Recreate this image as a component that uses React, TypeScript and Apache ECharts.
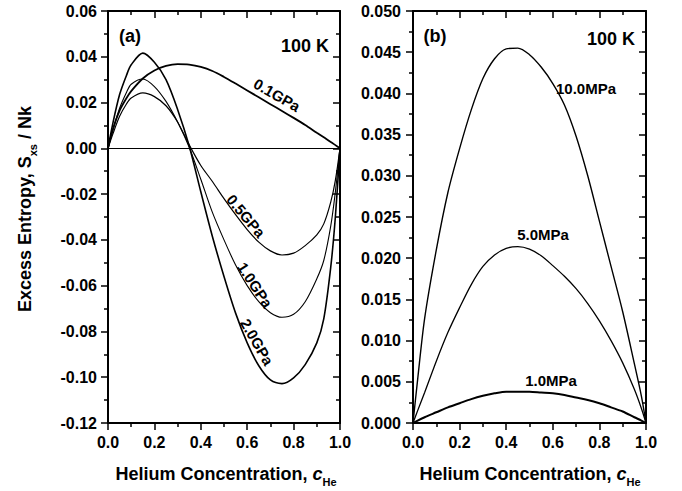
import React, { useEffect, useRef } from "react";
import * as echarts from "echarts";

// Panel (a): excess entropy vs helium concentration at 100 K, GPa pressures
const xA = [0, 0.02, 0.05, 0.08, 0.1, 0.15, 0.2, 0.25, 0.3, 0.35, 0.4, 0.45, 0.5, 0.55, 0.6, 0.65, 0.7, 0.75, 0.8, 0.85, 0.9, 0.93, 0.96, 0.98, 1.0];
const gpa01 = [0, 0.008, 0.0165, 0.022, 0.025, 0.0305, 0.034, 0.036, 0.0368, 0.0366, 0.0356, 0.0338, 0.0312, 0.0283, 0.0253, 0.0223, 0.0193, 0.0163, 0.0133, 0.0102, 0.0068, 0.0048, 0.0028, 0.0014, 0];
const gpa05 = [0, 0.006, 0.014, 0.0195, 0.022, 0.0242, 0.0226, 0.0186, 0.0115, 0.0015, -0.0075, -0.0145, -0.022, -0.029, -0.0355, -0.041, -0.0448, -0.0466, -0.0458, -0.0425, -0.0378, -0.033, -0.0235, -0.014, 0];
const gpa10 = [0, 0.0075, 0.0175, 0.0245, 0.028, 0.0303, 0.027, 0.0205, 0.0115, 0.0005, -0.0135, -0.028, -0.04, -0.051, -0.06, -0.067, -0.0718, -0.0738, -0.0725, -0.067, -0.057, -0.049, -0.034, -0.019, 0];
const gpa20 = [0, 0.0105, 0.0235, 0.032, 0.0365, 0.0416, 0.0376, 0.03, 0.017, 0.001, -0.019, -0.0385, -0.056, -0.072, -0.085, -0.095, -0.1012, -0.1028, -0.1003, -0.0945, -0.085, -0.0745, -0.052, -0.03, 0];

// Panel (b): MPa pressures
const xB = [0, 0.02, 0.05, 0.1, 0.15, 0.2, 0.25, 0.3, 0.35, 0.4, 0.45, 0.5, 0.55, 0.6, 0.65, 0.7, 0.75, 0.8, 0.85, 0.9, 0.95, 0.98, 1.0];
const mpa100 = [0, 0.0053, 0.0127, 0.021, 0.028, 0.0333, 0.038, 0.0418, 0.0442, 0.0454, 0.0455, 0.0447, 0.0432, 0.0412, 0.0386, 0.0348, 0.03, 0.0245, 0.019, 0.0135, 0.0072, 0.0033, 0];
const mpa50 = [0, 0.0015, 0.0037, 0.0075, 0.011, 0.014, 0.0168, 0.019, 0.0204, 0.0212, 0.0214, 0.0211, 0.0203, 0.0191, 0.0178, 0.0163, 0.0145, 0.0124, 0.01, 0.0073, 0.0041, 0.0018, 0];
const mpa10 = [0, 0.0003, 0.0007, 0.0013, 0.0019, 0.0024, 0.0029, 0.0033, 0.0036, 0.0038, 0.0038, 0.0038, 0.0037, 0.0036, 0.0034, 0.0031, 0.0028, 0.0024, 0.0019, 0.0014, 0.0007, 0.0003, 0];

const seriesA = [
  { name: "0.1GPa", values: gpa01, width: 1.8 },
  { name: "0.5GPa", values: gpa05, width: 1.2 },
  { name: "1.0GPa", values: gpa10, width: 1.1 },
  { name: "2.0GPa", values: gpa20, width: 1.6 },
];
const seriesB = [
  { name: "10.0MPa", values: mpa100, width: 1.4 },
  { name: "5.0MPa", values: mpa50, width: 1.3 },
  { name: "1.0MPa", values: mpa10, width: 2 },
];

const FONT = "'Liberation Sans', Arial, Helvetica, sans-serif";

export default function App() {
  const ref = useRef<HTMLDivElement>(null);
  useEffect(() => {
    if (!ref.current) return;
    const chart = echarts.init(ref.current, null, { renderer: "svg" });
    const black = "#000";
    const axisLine = { show: true, onZero: false, lineStyle: { color: black, width: 2 } };
    const labelStyle = { fontSize: 16, fontWeight: "bold", fontFamily: FONT, color: black };

    const mkX = (gridIndex: number, main: boolean) => ({
      type: "value",
      gridIndex,
      position: main ? "bottom" : "top",
      min: 0,
      max: 1,
      interval: 0.2,
      axisLine,
      axisTick: { show: true, inside: !main, length: 7, lineStyle: { color: black, width: 1.5 } },
      minorTick: { show: true, splitNumber: 2, length: 4, lineStyle: { color: black, width: 1.5 } },
      splitLine: { show: false },
      minorSplitLine: { show: false },
      axisLabel: {
        show: main,
        margin: 11,
        showMinLabel: true,
        showMaxLabel: true,
        ...labelStyle,
        formatter: (v: number) => v.toFixed(1),
      },
    });
    const mkY = (gridIndex: number, main: boolean, min: number, max: number, interval: number, digits: number, margin: number) => ({
      type: "value",
      gridIndex,
      position: main ? "left" : "right",
      min,
      max,
      interval,
      axisLine,
      axisTick: { show: true, inside: !main, length: 7, lineStyle: { color: black, width: 1.5 } },
      minorTick: { show: true, splitNumber: 2, length: 4, lineStyle: { color: black, width: 1.5 } },
      splitLine: { show: false },
      minorSplitLine: { show: false },
      axisLabel: {
        show: main,
        margin,
        showMinLabel: true,
        showMaxLabel: true,
        ...labelStyle,
        formatter: (v: number) => (Math.abs(v) < 1e-9 ? 0 : v).toFixed(digits),
      },
    });

    const series: any[] = [];
    seriesA.forEach((s, i) => {
      series.push({
        type: "line",
        name: s.name,
        xAxisIndex: 0,
        yAxisIndex: 0,
        data: xA.map((x, k) => [x, s.values[k]]),
        showSymbol: false,
        smooth: 0.3,
        lineStyle: { color: black, width: s.width },
        markLine:
          i === 0
            ? {
                silent: true,
                symbol: ["none", "none"],
                label: { show: false },
                lineStyle: { color: black, width: 1, type: "solid" },
                data: [{ yAxis: 0 }],
              }
            : undefined,
      });
    });
    seriesB.forEach((s) => {
      series.push({
        type: "line",
        name: s.name,
        xAxisIndex: 2,
        yAxisIndex: 2,
        data: xB.map((x, k) => [x, s.values[k]]),
        showSymbol: false,
        smooth: 0.3,
        lineStyle: { color: black, width: s.width },
      });
    });

    const txt = (text: string, x: number, y: number, size: number, rotation = 0, extra: any = {}) => ({
      type: "text",
      x,
      y,
      rotation,
      style: {
        text,
        fontSize: size,
        fontWeight: "bold",
        fontFamily: FONT,
        fill: black,
        align: "center",
        verticalAlign: "middle",
        ...extra,
      },
      z: 100,
    });
    const deg = Math.PI / 180;
    const richTitle = {
      m: { fontSize: 18, fontWeight: "bold", fontFamily: FONT, fill: black, lineHeight: 26, verticalAlign: "middle" },
      i: { fontSize: 18, fontWeight: "bold", fontStyle: "italic", fontFamily: FONT, fill: black, lineHeight: 26, verticalAlign: "middle" },
      s: { fontSize: 11, fontWeight: "bold", fontFamily: FONT, fill: black, lineHeight: 26, verticalAlign: "bottom" },
    };

    chart.setOption({
      animation: false,
      backgroundColor: "#fff",
      grid: [
        { left: 108, top: 11, width: 232, height: 412, outerBoundsMode: "none" },
        { left: 413, top: 11, width: 233, height: 412, outerBoundsMode: "none" },
      ],
      xAxis: [mkX(0, true), mkX(0, false), mkX(1, true), mkX(1, false)],
      yAxis: [
        mkY(0, true, -0.12, 0.06, 0.02, 2, 11),
        mkY(0, false, -0.12, 0.06, 0.02, 2, 11),
        mkY(1, true, 0, 0.05, 0.005, 3, 12),
        mkY(1, false, 0, 0.05, 0.005, 3, 12),
      ],
      series,
      graphic: [
        txt("(a)", 130, 36, 18),
        txt("100 K", 305, 46, 18),
        txt("(b)", 435, 36, 18),
        txt("100 K", 611, 39, 18),
        txt("0.1GPa", 277, 95, 15, -30 * deg),
        txt("0.5GPa", 246, 216, 15, -50 * deg),
        txt("1.0GPa", 255, 285, 15, -57 * deg),
        txt("2.0GPa", 257, 342, 15, -60 * deg),
        txt("10.0MPa", 586, 88, 15),
        txt("5.0MPa", 543, 234, 15),
        txt("1.0MPa", 551, 380, 15),
        {
          type: "text",
          x: 226,
          y: 474,
          style: {
            text: "{m|Helium Concentration, }{i|c}{s|He}",
            rich: richTitle,
            align: "center",
            verticalAlign: "middle",
          },
        },
        {
          type: "text",
          x: 530,
          y: 474,
          style: {
            text: "{m|Helium Concentration, }{i|c}{s|He}",
            rich: richTitle,
            align: "center",
            verticalAlign: "middle",
          },
        },
        {
          type: "text",
          x: 25,
          y: 209,
          rotation: Math.PI / 2,
          style: {
            text: "{m|Excess Entropy, S}{s|xs}{m| / Nk}",
            rich: richTitle,
            align: "center",
            verticalAlign: "middle",
          },
        },
      ],
    });
    return () => chart.dispose();
  }, []);
  return (
    <div
      ref={ref}
      style={{ position: "fixed", left: 0, top: 0, width: 682, height: 491, background: "#fff" }}
    />
  );
}
